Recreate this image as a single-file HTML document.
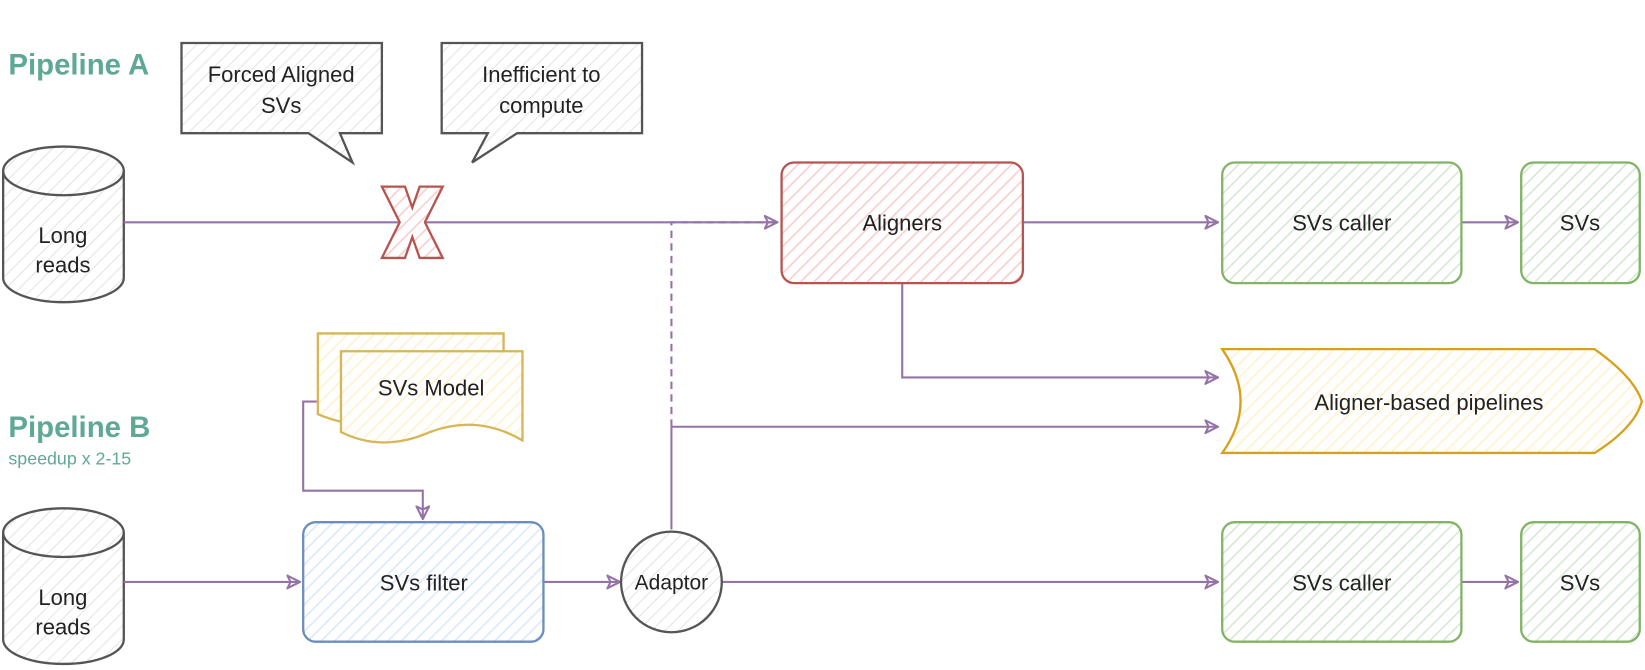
<!DOCTYPE html>
<html><head><meta charset="utf-8"><style>
html,body{margin:0;padding:0;background:#fff;}
svg{display:block;}
text{font-family:"Liberation Sans",sans-serif;}
</style></head><body>
<svg width="1645" height="670" viewBox="0 0 1568 639" preserveAspectRatio="none" xmlns="http://www.w3.org/2000/svg">
<defs>
<pattern id="hg" width="9" height="9" patternUnits="userSpaceOnUse" patternTransform="rotate(45)"><rect width="9" height="9" fill="#fff"/><line x1="0" y1="0" x2="0" y2="9" stroke="#e4e4e4" stroke-width="2"/></pattern>
<pattern id="hr" width="9" height="9" patternUnits="userSpaceOnUse" patternTransform="rotate(45)"><rect width="9" height="9" fill="#fff"/><line x1="0" y1="0" x2="0" y2="9" stroke="#f8cecc" stroke-width="3"/></pattern>
<pattern id="hgr" width="9" height="9" patternUnits="userSpaceOnUse" patternTransform="rotate(45)"><rect width="9" height="9" fill="#fff"/><line x1="0" y1="0" x2="0" y2="9" stroke="#d5e8d4" stroke-width="3"/></pattern>
<pattern id="hb" width="9" height="9" patternUnits="userSpaceOnUse" patternTransform="rotate(45)"><rect width="9" height="9" fill="#fff"/><line x1="0" y1="0" x2="0" y2="9" stroke="#dae8fc" stroke-width="3"/></pattern>
<pattern id="ho" width="9" height="9" patternUnits="userSpaceOnUse" patternTransform="rotate(45)"><rect width="9" height="9" fill="#fff"/><line x1="0" y1="0" x2="0" y2="9" stroke="#fff2cc" stroke-width="3"/></pattern>
<marker id="ar" viewBox="0 0 14 14" refX="13" refY="7" markerWidth="14" markerHeight="14" markerUnits="userSpaceOnUse" orient="auto"><path d="M1,1 L13,7 L1,13 L4,7 Z" fill="none" stroke="#9673a6" stroke-width="2"/></marker>
</defs>

<text x="8" y="71" font-size="28" font-weight="bold" fill="#5fa896">Pipeline A</text>
<text x="8" y="417" font-size="28" font-weight="bold" fill="#5fa896">Pipeline B</text>
<text x="8" y="443" font-size="17" fill="#5fa896">speedup x 2-15</text>

<!-- callouts -->
<path d="M173,41 H364 V127 H324 L336,155 L294,127 H173 Z" fill="url(#hg)" stroke="#555" stroke-width="2.2"/>
<text x="268" y="78" font-size="21" text-anchor="middle" fill="#222">Forced Aligned</text>
<text x="268" y="108" font-size="21" text-anchor="middle" fill="#222">SVs</text>
<path d="M421,41 H612 V127 H493 L450,155 L465,127 H421 Z" fill="url(#hg)" stroke="#555" stroke-width="2.2"/>
<text x="516" y="78" font-size="21" text-anchor="middle" fill="#222">Inefficient to</text>
<text x="516" y="108" font-size="21" text-anchor="middle" fill="#222">compute</text>

<!-- cylinders -->
<g fill="url(#hg)" stroke="#555" stroke-width="2.2">
<path d="M3,163 A57,23 0 0 1 118,163 V265 A57,23 0 0 1 3,265 Z"/>
<path d="M3,163 A57,23 0 0 0 118,163" fill="none"/>
<path d="M3,508 A57,23 0 0 1 118,508 V610 A57,23 0 0 1 3,610 Z"/>
<path d="M3,508 A57,23 0 0 0 118,508" fill="none"/>
</g>
<text x="60" y="232" font-size="21" text-anchor="middle" fill="#222">Long</text>
<text x="60" y="260" font-size="21" text-anchor="middle" fill="#222">reads</text>
<text x="60" y="577" font-size="21" text-anchor="middle" fill="#222">Long</text>
<text x="60" y="605" font-size="21" text-anchor="middle" fill="#222">reads</text>

<!-- connectors -->
<g fill="none" stroke="#9673a6" stroke-width="2">
<line x1="118" y1="212" x2="741" y2="212" marker-end="url(#ar)"/>
<path d="M640,505 V407" />
<path d="M640,407 V212 H738" stroke-dasharray="7,5"/>
<line x1="640" y1="407" x2="1161" y2="407" marker-end="url(#ar)"/>
<line x1="975" y1="212" x2="1161" y2="212" marker-end="url(#ar)"/>
<line x1="1393" y1="212" x2="1447" y2="212" marker-end="url(#ar)"/>
<path d="M860,270 V360 H1161" marker-end="url(#ar)"/>
<path d="M325,383 H289 V468 H403 V495" marker-end="url(#ar)"/>
<line x1="118" y1="555" x2="286" y2="555" marker-end="url(#ar)"/>
<line x1="518" y1="555" x2="591" y2="555" marker-end="url(#ar)"/>
<line x1="688" y1="555" x2="1161" y2="555" marker-end="url(#ar)"/>
<line x1="1393" y1="555" x2="1447" y2="555" marker-end="url(#ar)"/>
</g>

<!-- X mark -->
<path d="M364,178 H386 L393,198 L400,178 H422 L405,212 L422,246 H400 L393,226 L386,246 H364 L381,212 Z" fill="url(#hr)" stroke="#b85450" stroke-width="2.2"/>

<!-- boxes -->
<rect x="745" y="155" width="230" height="115" rx="12" fill="url(#hr)" stroke="#b85450" stroke-width="2.2"/>
<text x="860" y="220" font-size="21" text-anchor="middle" fill="#222">Aligners</text>
<rect x="1165" y="155" width="228" height="115" rx="12" fill="url(#hgr)" stroke="#82b366" stroke-width="2.2"/>
<text x="1279" y="220" font-size="21" text-anchor="middle" fill="#222">SVs caller</text>
<rect x="1450" y="155" width="113" height="115" rx="12" fill="url(#hgr)" stroke="#82b366" stroke-width="2.2"/>
<text x="1506" y="220" font-size="21" text-anchor="middle" fill="#222">SVs</text>
<rect x="1165" y="498" width="228" height="114" rx="12" fill="url(#hgr)" stroke="#82b366" stroke-width="2.2"/>
<text x="1279" y="563" font-size="21" text-anchor="middle" fill="#222">SVs caller</text>
<rect x="1450" y="498" width="113" height="114" rx="12" fill="url(#hgr)" stroke="#82b366" stroke-width="2.2"/>
<text x="1506" y="563" font-size="21" text-anchor="middle" fill="#222">SVs</text>
<rect x="289" y="498" width="229" height="114" rx="12" fill="url(#hb)" stroke="#6c8ebf" stroke-width="2.2"/>
<text x="404" y="563" font-size="21" text-anchor="middle" fill="#222">SVs filter</text>

<!-- aligner-based pipelines -->
<path d="M1165,333 H1520 Q1558,360 1565,383 Q1558,408 1520,432 H1165 Q1200,383 1165,333 Z" fill="url(#ho)" stroke="#d6a21d" stroke-width="2.2"/>
<text x="1362" y="391" font-size="21" text-anchor="middle" fill="#222">Aligner-based pipelines</text>

<!-- SVs model documents -->
<path d="M303,318 H480 V405 Q440,380 400,395 Q350,415 303,395 Z" fill="url(#ho)" stroke="#d6b656" stroke-width="2.2"/>
<path d="M325,335 H498 V420 Q455,395 410,412 Q365,432 325,412 Z" fill="url(#ho)" stroke="#d6b656" stroke-width="2.2"/>
<text x="411" y="377" font-size="21" text-anchor="middle" fill="#222">SVs Model</text>

<!-- adaptor -->
<circle cx="640" cy="555" r="48" fill="url(#hg)" stroke="#555" stroke-width="2.2"/>
<text x="640" y="562" font-size="20" text-anchor="middle" fill="#222">Adaptor</text>
</svg>
</body></html>
